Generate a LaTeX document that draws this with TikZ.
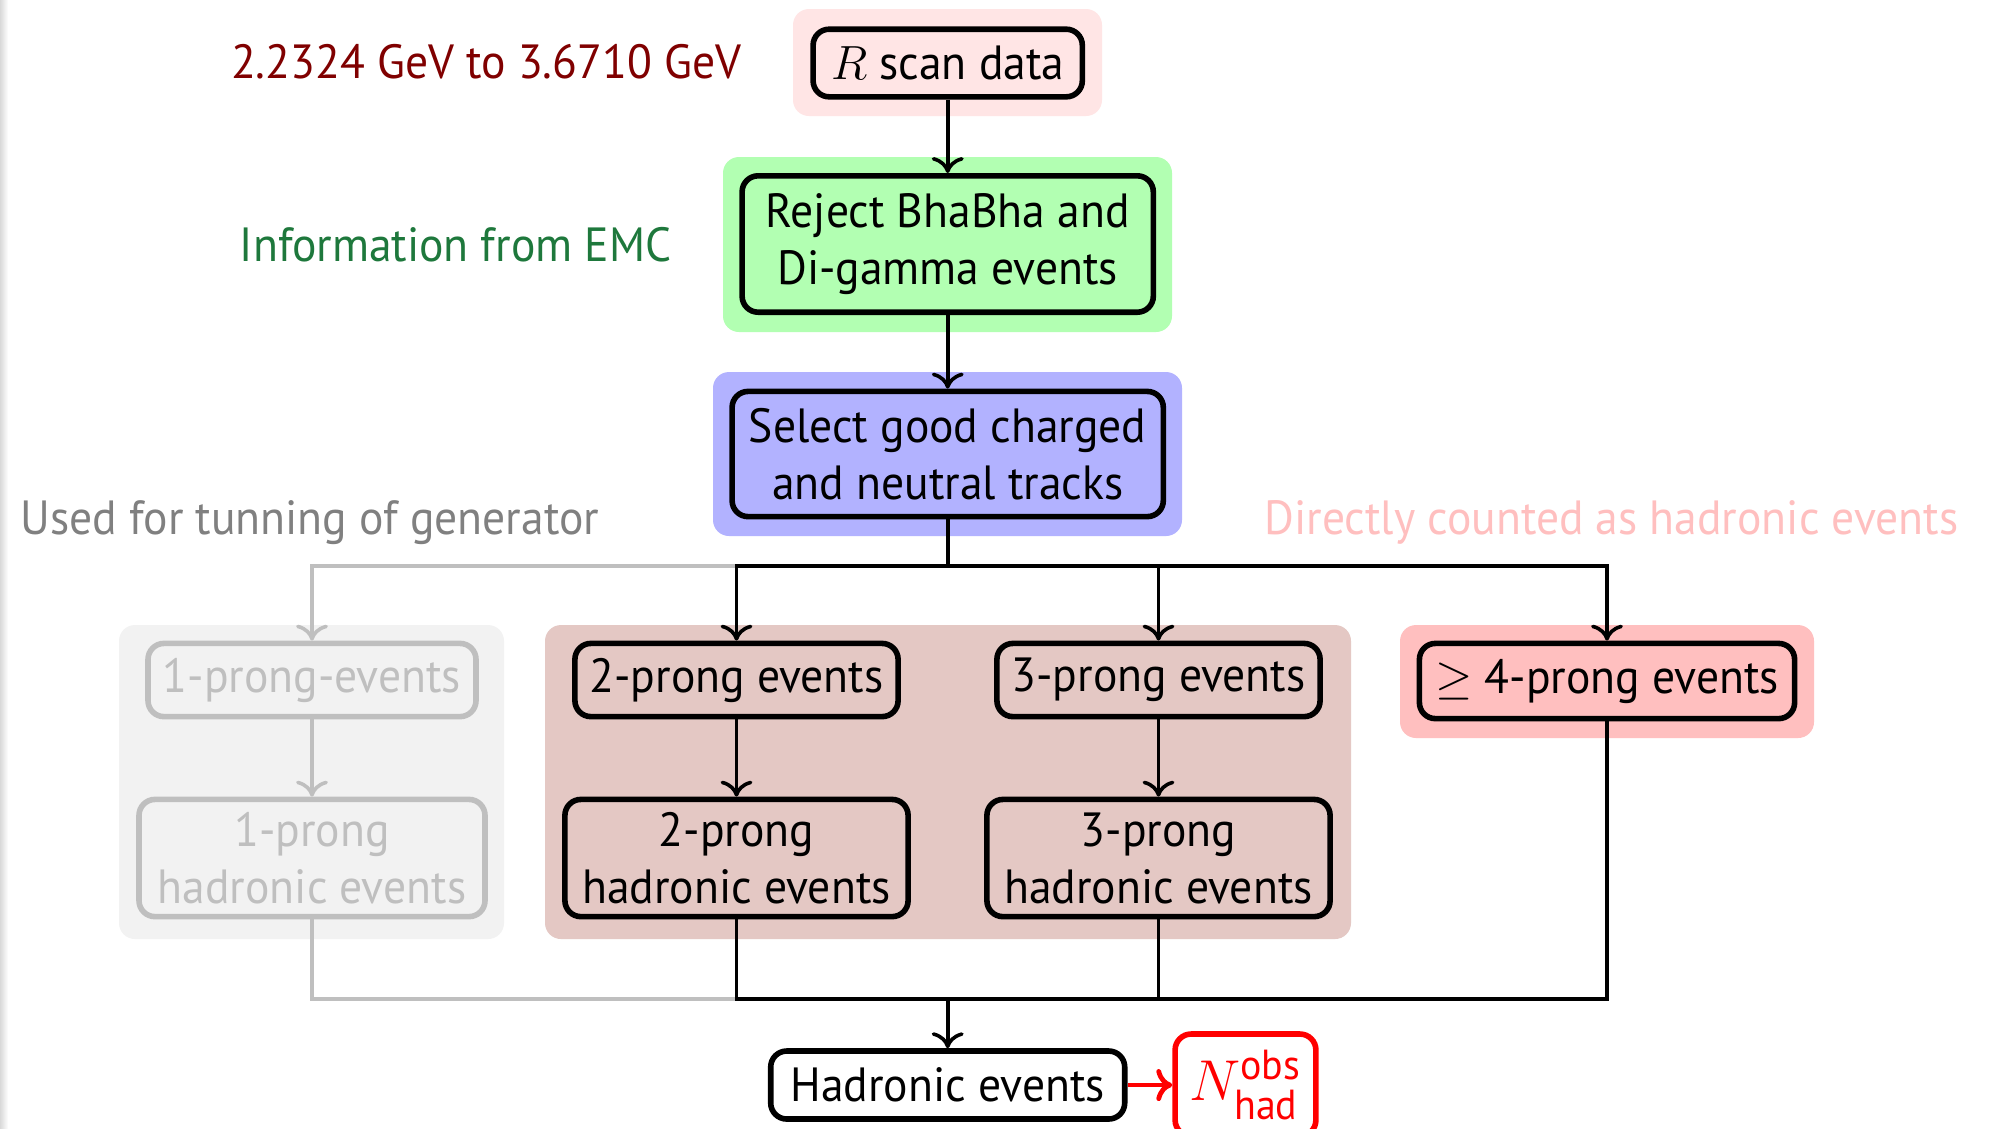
\documentclass[tikz,border=0pt]{standalone}
\usepackage{amsmath}
\usepackage{fontspec}
\setmainfont[FakeStretch=0.95]{PT Sans}
\usetikzlibrary{arrows.meta}
\definecolor{brownbg}{RGB}{228,200,196}
\definecolor{emcgreen}{RGB}{30,120,60}
\definecolor{darkred}{RGB}{128,0,0}
\tikzset{
  fnt/.style={font=\fontsize{12}{14.25}\selectfont},
  flow/.style={fnt, draw, line width=1.4pt, rounded corners=4pt, align=center, inner sep=0pt},
  grayflow/.style={flow, draw=gray!50, text=gray!50},
  conn/.style={line width=0.9pt, -{To[length=4pt,width=8pt]}},
  plain/.style={line width=0.9pt},
  gconn/.style={conn, draw=gray!50},
  gplain/.style={plain, draw=gray!50},
  bg/.style={rounded corners=4pt},
  lbl/.style={fnt, inner sep=0pt}
}
\begin{document}
\begin{tikzpicture}[x=0.25pt,y=-0.25pt]
\useasboundingbox (0,0) rectangle (2000,1128);
\fill[white] (0,0) rectangle (2000,1128);
\shade[left color=gray!30, right color=white] (0,0) rectangle (8,1128);
% backgrounds
\fill[bg, red!10] (793,9) rectangle (1102,116);
\fill[bg, green!30] (723,157) rectangle (1172,332);
\fill[bg, blue!30] (713,372) rectangle (1182,536);
\fill[bg, gray!10] (119,625) rectangle (504,939);
\fill[bg, brownbg] (545,625) rectangle (1351,939);
\fill[bg, red!25] (1400,625) rectangle (1814,738);
% labels
\node[lbl, text=darkred, anchor=east] (l1) at (742,62) {2.2324 GeV to 3.6710 GeV};
\node[lbl, text=emcgreen, anchor=east] (l2) at (672,245) {Information from EMC};
\node[lbl, text=gray, anchor=west] (l3) at (20,523) {Used for tunning of generator};
\node[lbl, text=red!25, anchor=east] (l4) at (1959,522) {Directly counted as hadronic events};
% nodes
\node[flow, minimum width=67.3pt, minimum height=16.9pt] (R) at (947.7,63) {$R$ scan data};
\node[flow, minimum width=102.8pt, minimum height=34.1pt] (rej) at (947.7,244) {Reject BhaBha and\\Di-gamma events};
\node[flow, minimum width=107.8pt, minimum height=31.3pt] (sel) at (947.7,454) {Select good charged\\and neutral tracks};
\node[grayflow, minimum width=82pt, minimum height=18.3pt] (p1) at (312,680) {1-prong-events};
\node[grayflow, minimum width=86.5pt, minimum height=29.3pt] (h1) at (312,858) {1-prong\\hadronic events};
\node[flow, minimum width=80.8pt, minimum height=18.3pt] (p2) at (736.5,680) {2-prong events};
\node[flow, minimum width=85.8pt, minimum height=29.3pt] (h2) at (736.5,858) {2-prong\\hadronic events};
\node[flow, minimum width=80.8pt, minimum height=18.3pt] (p3) at (1158.5,680) {3-prong events};
\node[flow, minimum width=85.8pt, minimum height=29.3pt] (h3) at (1158.5,858) {3-prong\\hadronic events};
\node[flow, minimum width=93.8pt, minimum height=18.8pt] (p4) at (1607,681) {$\geq$ 4-prong events};
\node[flow, fill=white, minimum width=88.5pt, minimum height=17pt] (had) at (947.7,1085) {Hadronic events};
\node[flow, draw=red, text=red, minimum width=35.2pt, minimum height=25.5pt, font=\fontsize{15}{18}\selectfont] (N) at (1245.5,1085) {$N^{\text{obs}}_{\text{had}}$};
% connectors
\coordinate (br) at (947.7,566);
\coordinate (hb) at (947.7,999);
\draw[conn] (R) -- (rej);
\draw[conn] (rej) -- (sel);
\draw[gconn] (br) -| (p1);
\draw[gconn] (p1) -- (h1);
\draw[gplain] (h1) |- (hb);
\draw[plain] (sel) -- (br);
\draw[conn] (br) -| (p2);
\draw[conn] (br) -| (p3);
\draw[conn] (br) -| (p4);
\draw[conn] (p2) -- (h2);
\draw[conn] (p3) -- (h3);
\draw[plain] (h2) |- (hb);
\draw[plain] (h3) |- (hb);
\draw[plain] (p4) |- (hb);
\draw[conn] (hb) -- (had);
\draw[conn, draw=red, line width=1.2pt] (had) -- (N);
\end{tikzpicture}
\end{document}
